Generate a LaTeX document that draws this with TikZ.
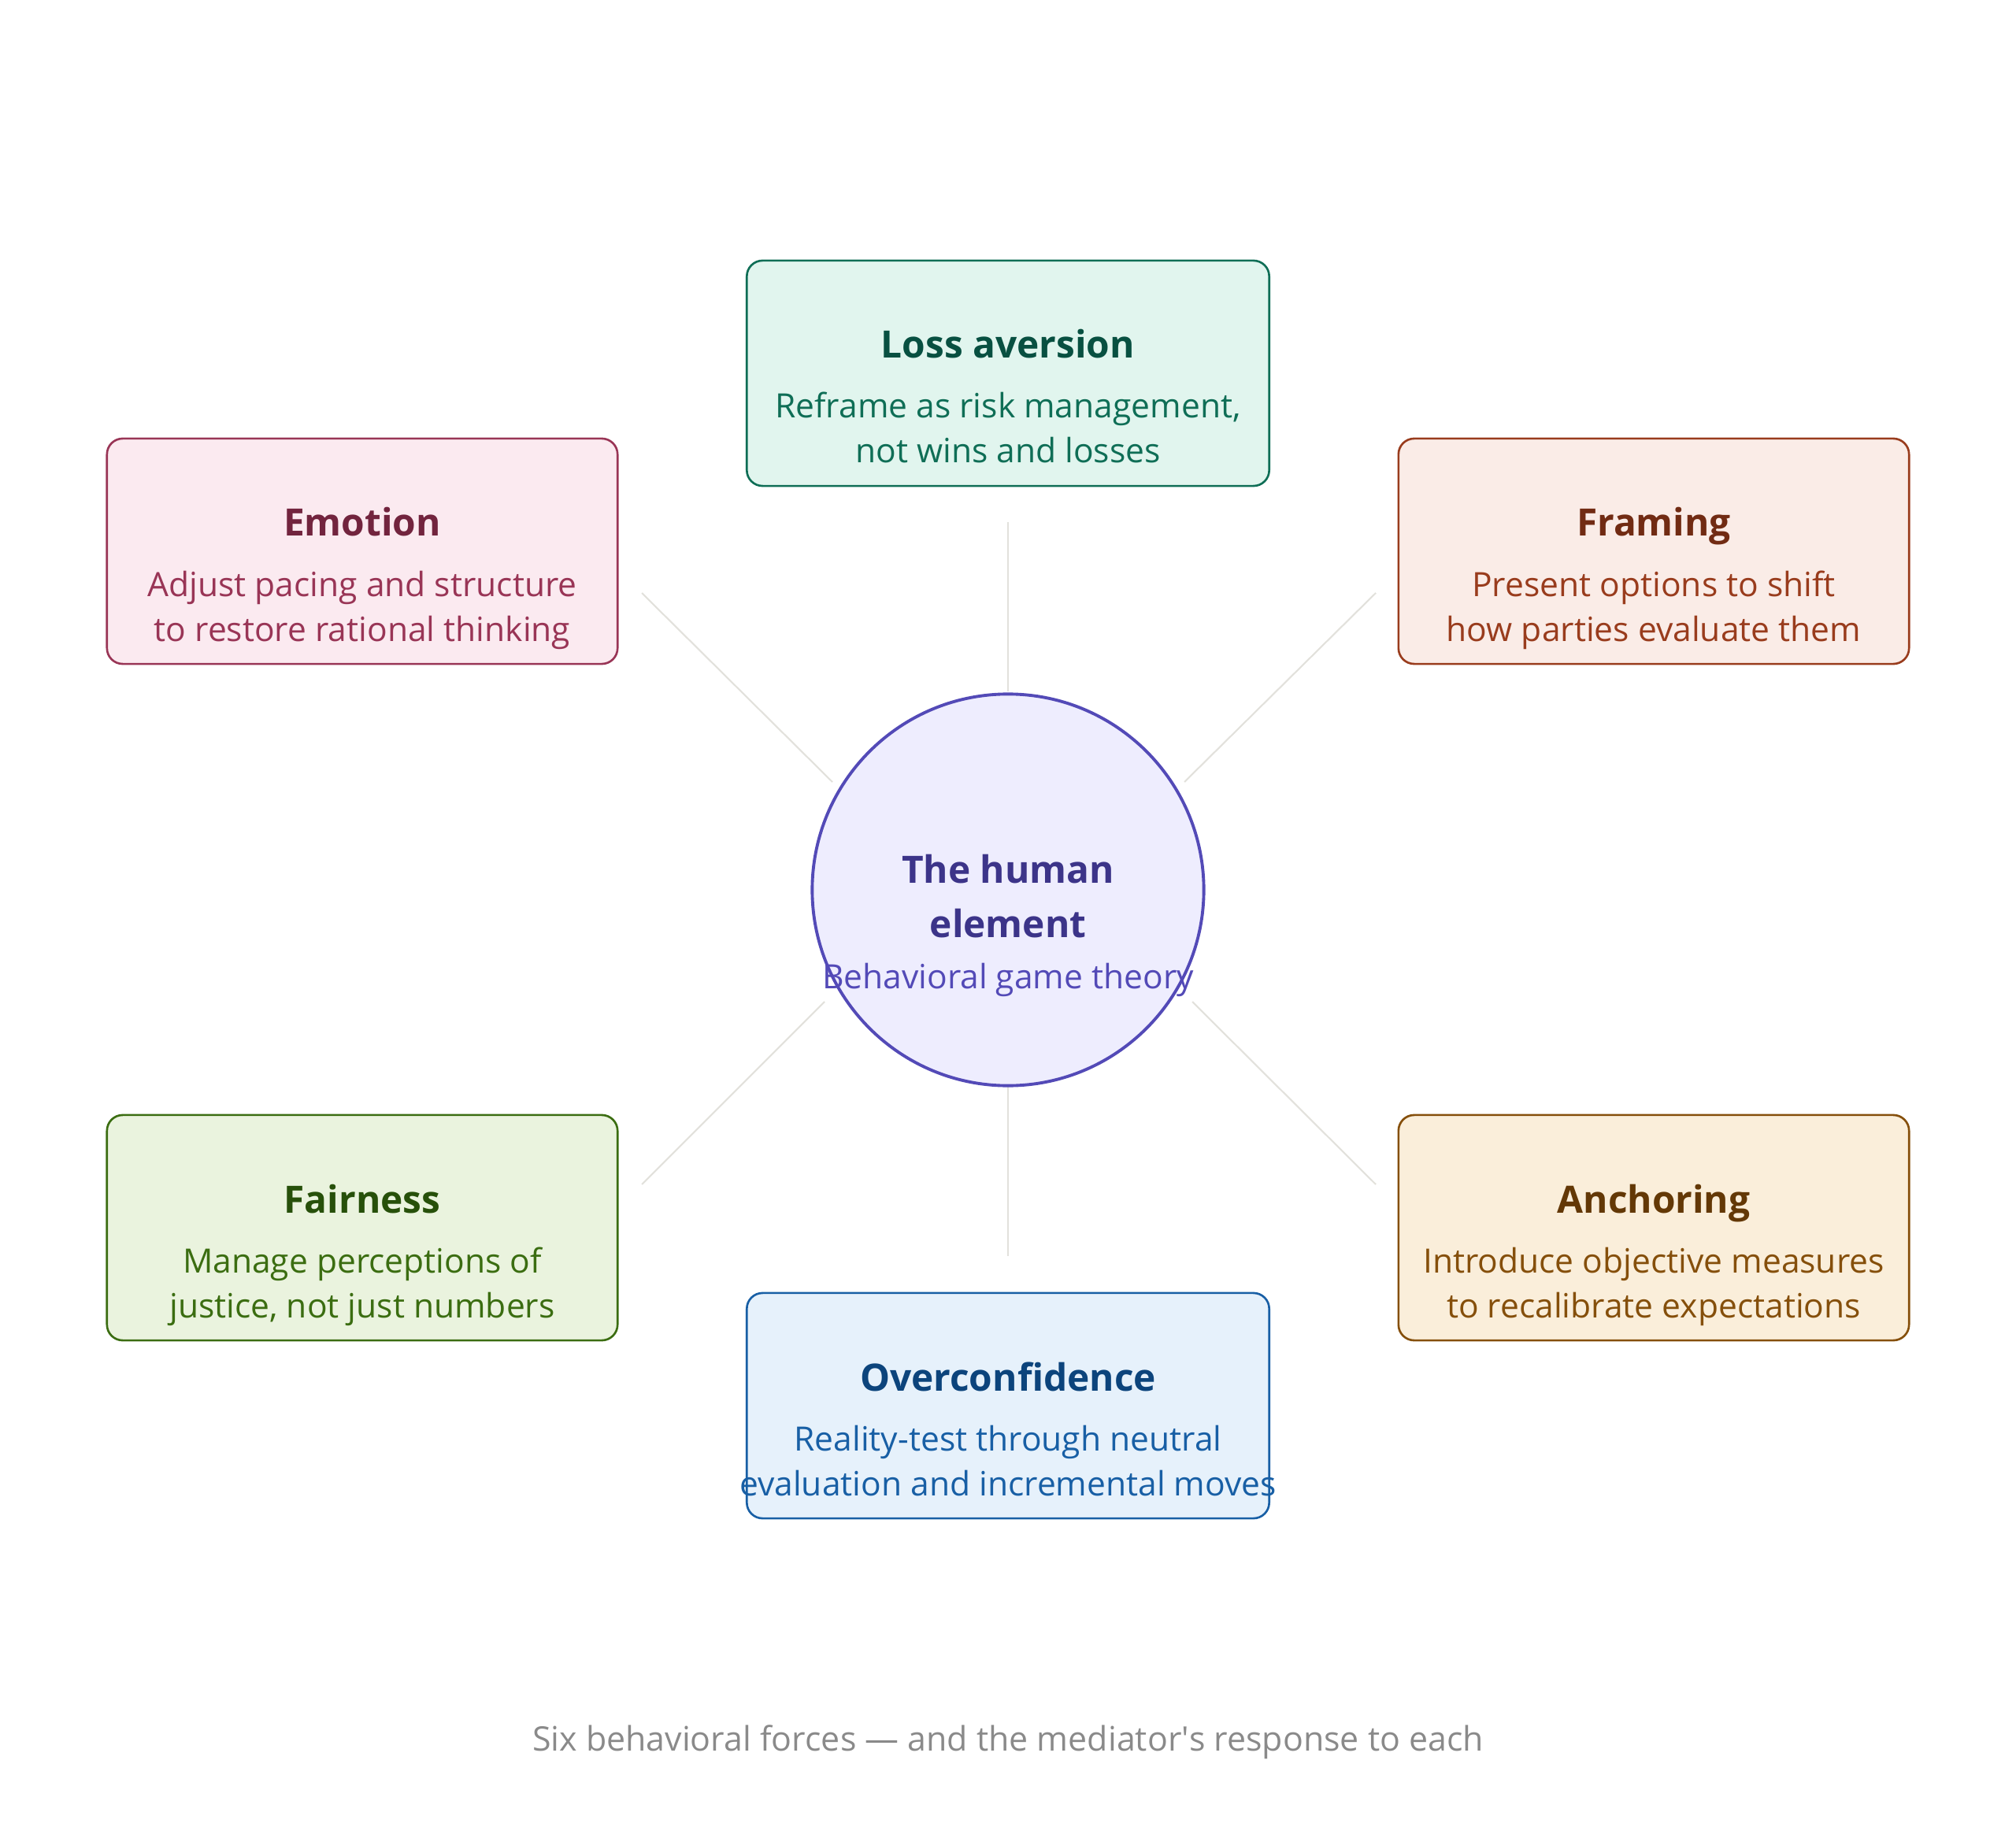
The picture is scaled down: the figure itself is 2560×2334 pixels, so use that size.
\documentclass[tikz,border=0pt]{standalone}
\usepackage{fontspec}
\setmainfont{Open Sans}
\definecolor{tealF}{HTML}{E1F5EE}\definecolor{tealD}{HTML}{0F6E56}\definecolor{tealT}{HTML}{085041}
\definecolor{pinkF}{HTML}{FBEAF0}\definecolor{pinkD}{HTML}{993556}\definecolor{pinkT}{HTML}{72243E}
\definecolor{corF}{HTML}{FAECE7}\definecolor{corD}{HTML}{993C1D}\definecolor{corT}{HTML}{712B13}
\definecolor{grnF}{HTML}{EAF3DE}\definecolor{grnD}{HTML}{3B6D11}\definecolor{grnT}{HTML}{27500A}
\definecolor{ambF}{HTML}{FAEEDA}\definecolor{ambD}{HTML}{854F0B}\definecolor{ambT}{HTML}{633806}
\definecolor{bluF}{HTML}{E6F1FB}\definecolor{bluD}{HTML}{185FA5}\definecolor{bluT}{HTML}{0C447C}
\definecolor{purF}{HTML}{EEEDFE}\definecolor{purD}{HTML}{534AB7}\definecolor{purT}{HTML}{3C3489}
\definecolor{linkC}{HTML}{E2E1DC}\definecolor{capC}{HTML}{8A8A8A}
\newcommand{\dsc}{\vphantom{g}}
\begin{document}
\begin{tikzpicture}[x=0.01cm,y=-0.01cm,
  forcebox/.style={rounded corners=0.2cm, line width=0.75pt, minimum height=2.86cm, inner sep=0pt},
  widebox/.style={forcebox, minimum width=6.63cm},
  sidebox/.style={forcebox, minimum width=6.48cm},
  ttl/.style={font=\bfseries\fontsize{13.6}{16}\selectfont, inner sep=0pt, anchor=base},
  bdy/.style={font=\fontsize{12.1}{16.2}\selectfont, align=center, inner sep=0pt},
  link/.style={draw=linkC, line width=0.6pt}]
\useasboundingbox (0,0) rectangle (2560,2334);

% connector end points
\coordinate (tA) at (1280,663);  \coordinate (tB) at (1280,878);
\coordinate (bA) at (1280,1380); \coordinate (bB) at (1280,1595);
\coordinate (eA) at (815,753);   \coordinate (eB) at (1057,993);
\coordinate (fA) at (1747,753);  \coordinate (fB) at (1504,993);
\coordinate (gA) at (815,1504);  \coordinate (gB) at (1047,1272);
\coordinate (hA) at (1747,1504); \coordinate (hB) at (1514,1272);
\draw[link] (tA) -- (tB);
\draw[link] (bA) -- (bB);
\draw[link] (eA) -- (eB);
\draw[link] (fA) -- (fB);
\draw[link] (gA) -- (gB);
\draw[link] (hA) -- (hB);

% center
\node[circle, minimum size=4.97cm, inner sep=0pt, fill=purF, draw=purD, line width=1.1pt] (hub) at (1280,1130) {};
\node[inner sep=0pt, text=purT, align=center, font=\bfseries\fontsize{13.6}{19.5}\selectfont] (hubT) at (1280,1138) {The human\\element};
\node[bdy, text=purD] (hubB) at (1280,1244) {Behavioral game theory};

% Loss aversion
\node[widebox, fill=tealF, draw=tealD] (loss) at (1280,474) {};
\node[ttl, text=tealT] (lossT) at (1280,455) {Loss aversion};
\node[bdy, text=tealD] (lossB) at (1280,548) {Reframe as risk management,\\not wins and losses\dsc};

% Emotion
\node[sidebox, fill=pinkF, draw=pinkD] (emo) at (460,700) {};
\node[ttl, text=pinkT] (emoT) at (460,681) {Emotion};
\node[bdy, text=pinkD] (emoB) at (460,775) {Adjust pacing and structure\\to restore rational thinking\dsc};

% Framing
\node[sidebox, fill=corF, draw=corD] (fram) at (2100,700) {};
\node[ttl, text=corT] (framT) at (2100,681) {Framing};
\node[bdy, text=corD] (framB) at (2100,775) {Present options to shift\\how parties evaluate them\dsc};

% Fairness
\node[sidebox, fill=grnF, draw=grnD] (fair) at (460,1559) {};
\node[ttl, text=grnT] (fairT) at (460,1540) {Fairness};
\node[bdy, text=grnD] (fairB) at (460,1634) {Manage perceptions of\\justice, not just numbers\dsc};

% Anchoring
\node[sidebox, fill=ambF, draw=ambD] (anch) at (2100,1559) {};
\node[ttl, text=ambT] (anchT) at (2100,1540) {Anchoring};
\node[bdy, text=ambD] (anchB) at (2100,1634) {Introduce objective measures\\to recalibrate expectations\dsc};

% Overconfidence
\node[widebox, fill=bluF, draw=bluD] (over) at (1280,1785) {};
\node[ttl, text=bluT] (overT) at (1280,1766) {Overconfidence};
\node[bdy, text=bluD] (overB) at (1280,1860) {Reality-test through neutral\\evaluation and incremental moves\dsc};

% caption
\node[inner sep=0pt, text=capC, font=\fontsize{12.2}{15}\selectfont] (cap) at (1280,2212) {Six behavioral forces — and the mediator\textquotesingle s response to each};
\end{tikzpicture}
\end{document}
